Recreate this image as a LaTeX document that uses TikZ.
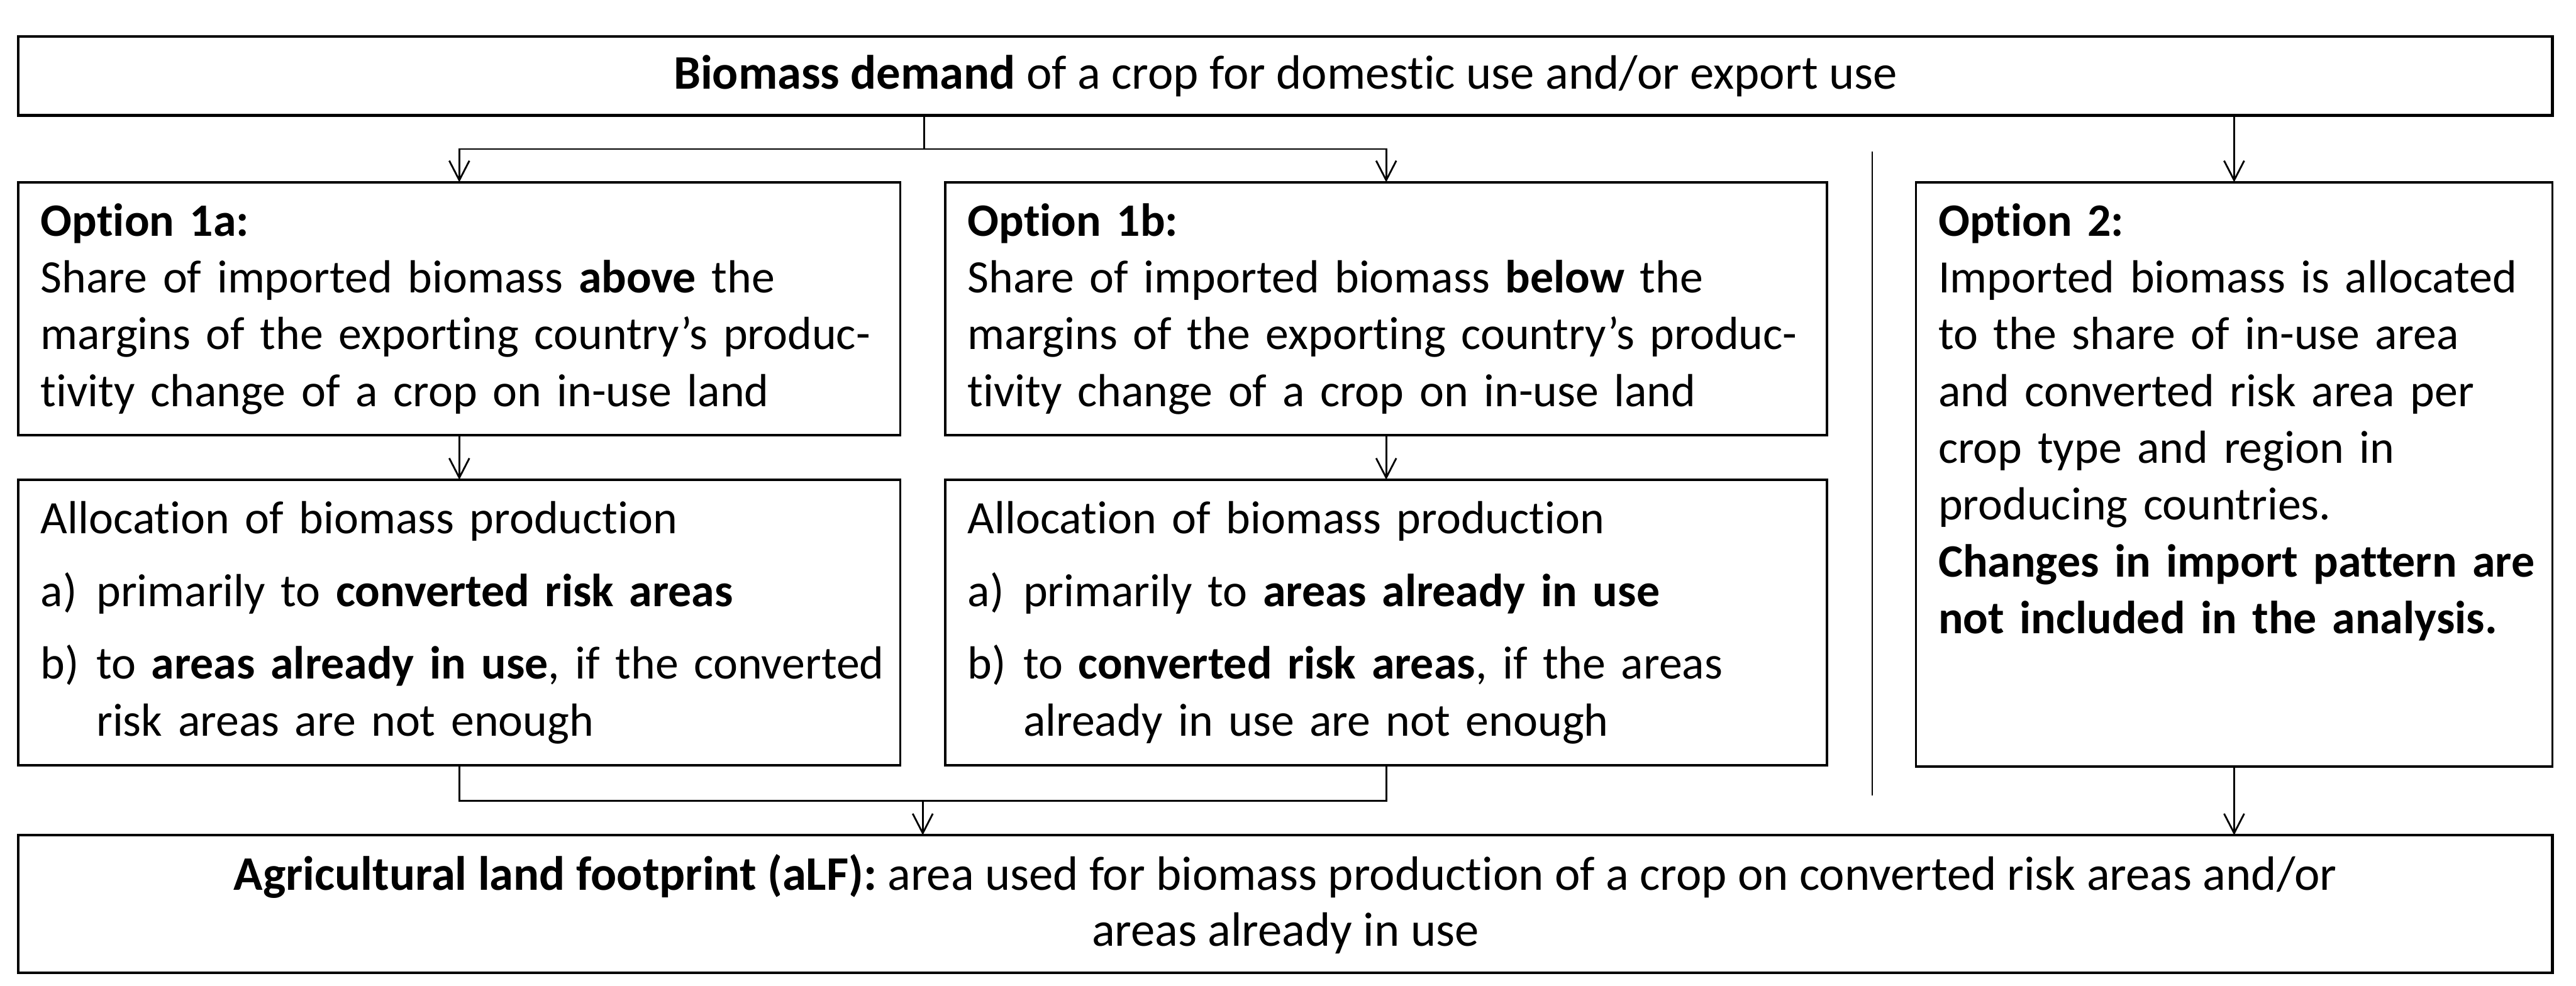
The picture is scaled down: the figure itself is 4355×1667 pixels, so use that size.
\documentclass[tikz,border=0pt]{standalone}
\usepackage{fontspec}
\setmainfont{Carlito}[Ligatures={NoCommon}]
\usetikzlibrary{arrows.meta}
\newcommand\nowrap{\rightskip=0pt plus 1fil minus 30pt\relax}
\begin{document}
\begin{tikzpicture}[x=0.2pt,y=-0.2pt,
  font=\fontsize{15.7pt}{19.2pt}\selectfont,
  box/.style={draw, line width=0.8pt, anchor=north west, outer sep=0pt},
  wbox/.style={box, line width=0.9pt, inner sep=0pt, minimum width=856.8pt, align=center,
    font=\fontsize{16.3pt}{18.8pt}\selectfont},
  tbox/.style={box, inner xsep=7.6pt, inner ysep=4.8pt, text height=13.4pt, align=left},
  optbox/.style={tbox, text width=283pt, text depth=62.6pt},
  allocbox/.style={tbox, text width=283pt, text depth=73.6pt},
  arr/.style={line width=0.6pt, -{Straight Barb[length=6.6pt,width=6.8pt]}},
  link/.style={line width=0.6pt},
  sepline/.style={line width=0.5pt}]
\useasboundingbox (0,0) rectangle (4355,1667);

\node[wbox, minimum height=26.6pt] (top) at (31,62)
  {\textbf{Biomass demand} of a crop for domestic use and/or export use};

\node[optbox] (o1a) at (31,308)
  {\nowrap\textbf{Option 1a:}\\
   Share of imported biomass \textbf{above} the\\
   margins of the exporting country’s produc-\\
   tivity change of a crop on in-use land};

\node[optbox] (o1b) at (1598,308)
  {\nowrap\textbf{Option 1b:}\\
   Share of imported biomass \textbf{below} the\\
   margins of the exporting country’s produc-\\
   tivity change of a crop on in-use land};

\node[tbox, text width=200pt, text depth=174.6pt] (o2) at (3239,308)
  {\nowrap\textbf{Option 2:}\\
   Imported biomass is allocated\\
   to the share of in-use area\\
   and converted risk area per\\
   crop type and region in\\
   producing countries.\\
   \textbf{Changes in import pattern are}\\
   \textbf{not included in the analysis.}};

\node[allocbox] (a1a) at (31,811)
  {\nowrap Allocation of biomass production\\[5.4pt]
   \makebox[18.8pt][l]{a)}primarily to \textbf{converted risk areas}\\[5.4pt]
   \makebox[18.8pt][l]{b)}\parbox[t]{270pt}{\nowrap to \textbf{areas already in use}, if the converted\\risk areas are not enough}};

\node[allocbox] (a1b) at (1598,811)
  {\nowrap Allocation of biomass production\\[5.4pt]
   \makebox[18.8pt][l]{a)}primarily to \textbf{areas already in use}\\[5.4pt]
   \makebox[18.8pt][l]{b)}\parbox[t]{270pt}{\nowrap to \textbf{converted risk areas}, if the areas\\already in use are not enough}};

\node[wbox, minimum height=46.6pt] (bot) at (31,1412)
  {\textbf{Agricultural land footprint (aLF):} area used for biomass production of a crop on converted risk areas and/or\\
   areas already in use};

% connectors
\coordinate (j1) at (1562,252);
\coordinate (j2) at (1560,1354);
\draw[link] (top.south -| j1) -- (j1);
\draw[arr] (j1) -| (o1a.north);
\draw[arr] (j1) -| (o1b.north);
\draw[arr] (top.south -| o2.north) -- (o2.north);
\draw[arr] (o1a.south) -- (a1a.north);
\draw[arr] (o1b.south) -- (a1b.north);
\draw[link] (a1a.south) |- (a1b.south |- j2) -- (a1b.south);
\draw[arr] (j2) -- (j2 |- bot.north);
\draw[arr] (o2.south) -- (o2.south |- bot.north);

% separator
\draw[sepline] (3165,256) -- (3165,1345);
\end{tikzpicture}
\end{document}
